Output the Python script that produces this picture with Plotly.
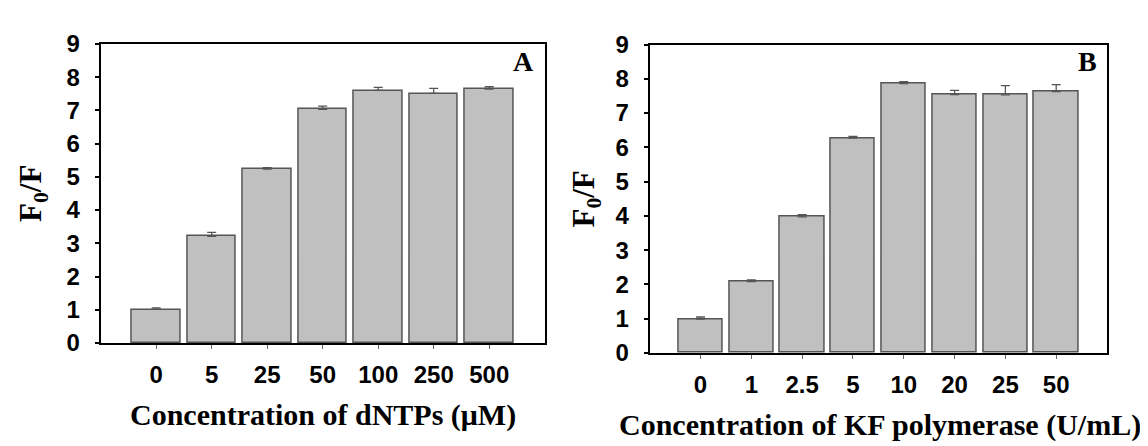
import plotly.graph_objects as go

# Panel A data
cats_a = ["0", "5", "25", "50", "100", "250", "500"]
vals_a = [1.01, 3.21, 5.23, 7.03, 7.60, 7.51, 7.64]
errs_a = [0.05, 0.12, 0.05, 0.10, 0.09, 0.15, 0.07]

# Panel B data
cats_b = ["0", "1", "2.5", "5", "10", "20", "25", "50"]
vals_b = [0.99, 2.08, 3.97, 6.27, 7.86, 7.54, 7.53, 7.63]
errs_b = [0.06, 0.05, 0.07, 0.05, 0.06, 0.12, 0.27, 0.20]

y_ticks = [0, 1, 2, 3, 4, 5, 6, 7, 8, 9]

W, H = 1148, 446
BAR_FILL = "#c0c0c0"
EDGE = "#555555"


def px_x(x):
    return x / W


def px_y(y):
    return 1 - y / H


fig = go.Figure()

for cats, vals, errs, xa, ya in [
    (cats_a, vals_a, errs_a, "x", "y"),
    (cats_b, vals_b, errs_b, "x2", "y2"),
]:
    fig.add_trace(go.Bar(
        x=list(range(len(cats))), y=vals,
        xaxis=xa, yaxis=ya,
        width=0.87,
        marker=dict(color=BAR_FILL, line=dict(color=EDGE, width=1.5)),
        error_y=dict(type="data", symmetric=False, array=errs,
                     arrayminus=[0] * len(errs),
                     color=EDGE, thickness=1.3, width=4.5),
        showlegend=False,
    ))

tickfont = dict(family="Liberation Sans", size=24, color="black", weight="bold")

common_x = dict(showline=True, linecolor="black", linewidth=2, mirror=True,
                ticks="outside", ticklen=4, tickwidth=1, tickcolor="#666666",
                showgrid=False, zeroline=False, tickfont=tickfont,
                ticklabelstandoff=5)
common_y = dict(showline=True, linecolor="black", linewidth=2, mirror=True,
                ticks="outside", ticklen=4, tickwidth=1.5, tickcolor="black",
                showgrid=False, zeroline=False, tickfont=tickfont,
                range=[0, 9], tickvals=y_ticks, ticktext=[str(v) for v in y_ticks],
                ticklabelstandoff=10)

fig.update_layout(
    width=W, height=H, autosize=False,
    margin=dict(l=0, r=0, t=0, b=0),
    paper_bgcolor="white", plot_bgcolor="white",
    bargap=0,
    xaxis=dict(**common_x, domain=[px_x(92.7), px_x(536.7)], range=[-1, 7],
               tickvals=list(range(len(cats_a))), ticktext=cats_a, anchor="y"),
    yaxis=dict(**common_y, domain=[px_y(341.7), px_y(23.3)], anchor="x"),
    xaxis2=dict(**common_x, domain=[px_x(641.7), px_x(1099)], range=[-1, 8],
                tickvals=list(range(len(cats_b))), ticktext=cats_b, anchor="y2"),
    yaxis2=dict(**common_y, domain=[px_y(352.3), px_y(24)], anchor="x2"),
)

serif = dict(family="Liberation Serif", size=30, color="black", weight="bold")

annots = [
    dict(text="Concentration of dNTPs (μM)", x=px_x(315), y=px_y(418)),
    dict(text="Concentration of KF polymerase (U/mL)", x=px_x(872), y=px_y(429)),
    dict(text="F<sub>0</sub>/F", x=px_x(25), y=px_y(183), textangle=-90, size=31),
    dict(text="F<sub>0</sub>/F", x=px_x(578), y=px_y(189), textangle=-90, size=31),
    dict(text="A", x=px_x(515), y=px_y(42), size=28),
    dict(text="B", x=px_x(1079), y=px_y(42), size=28),
]
for a in annots:
    f = dict(serif)
    if "size" in a:
        f["size"] = a.pop("size")
    fig.add_annotation(xref="paper", yref="paper", xanchor="center",
                       yanchor="middle", showarrow=False, font=f, **a)

fig.write_html("out.html")
